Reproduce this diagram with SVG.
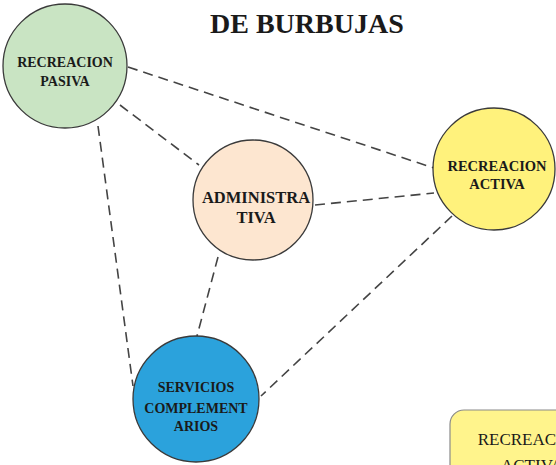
<svg xmlns="http://www.w3.org/2000/svg" width="556" height="465" viewBox="0 0 556 465">
<style>
.bg{fill:#ffffff}
.node{stroke:#3a3a3a;stroke-width:1.3}
.lbl{font-family:"Liberation Serif","Times New Roman",serif;font-weight:bold;fill:#1a1a1a;text-anchor:middle}
.title{font-family:"Liberation Serif","Times New Roman",serif;font-weight:bold;font-size:28px;fill:#1a1a1a}
.conn line{stroke:#444;stroke-width:1.6;stroke-dasharray:10 6;fill:none}
.box{fill:#fff48c;stroke:#8a8a8a;stroke-width:1.2}
.boxt{font-family:"Liberation Serif","Times New Roman",serif;font-size:17px;fill:#1a1a1a;text-anchor:middle}
</style>
<rect class="bg" x="0" y="0" width="556" height="465"/>
<text class="title" x="210" y="33">DE BURBUJAS</text>
<g id="connectors" class="conn">
<line x1="128" y1="67" x2="434" y2="168"/>
<line x1="120" y1="105" x2="199" y2="165"/>
<line x1="98" y1="126" x2="133" y2="386"/>
<line x1="315" y1="205" x2="434" y2="193"/>
<line x1="218" y1="257" x2="197" y2="336"/>
<line x1="452" y1="216" x2="261" y2="396"/>
</g>
<g id="recreacion-pasiva">
<circle class="node" cx="65" cy="66" r="62" fill="#c9e4c3"/>
<text class="lbl" x="65" y="67" font-size="14">RECREACION</text>
<text class="lbl" x="65" y="86" font-size="14">PASIVA</text>
</g>
<g id="recreacion-activa">
<circle class="node" cx="494" cy="169" r="61" fill="#fff27c"/>
<text class="lbl" x="497" y="171" font-size="14.5">RECREACION</text>
<text class="lbl" x="497" y="189" font-size="14.5">ACTIVA</text>
</g>
<g id="administrativa">
<circle class="node" cx="253" cy="200" r="60" fill="#fde6d0"/>
<text class="lbl" x="256" y="203" font-size="16.5">ADMINISTRA</text>
<text class="lbl" x="256" y="223" font-size="16.5">TIVA</text>
</g>
<g id="servicios-complementarios">
<circle class="node" cx="196" cy="399" r="63" fill="#2ba2dc"/>
<text class="lbl" x="196" y="392" font-size="14">SERVICIOS</text>
<text class="lbl" x="196" y="413" font-size="14">COMPLEMENT</text>
<text class="lbl" x="196" y="431" font-size="14">ARIOS</text>
</g>
<g id="recreacion-activa-box">
<rect class="box" x="450" y="410" width="140" height="90" rx="14"/>
<text class="boxt" x="532" y="445">RECREACION</text>
<text class="boxt" x="532" y="471">ACTIVA</text>
</g>
</svg>
